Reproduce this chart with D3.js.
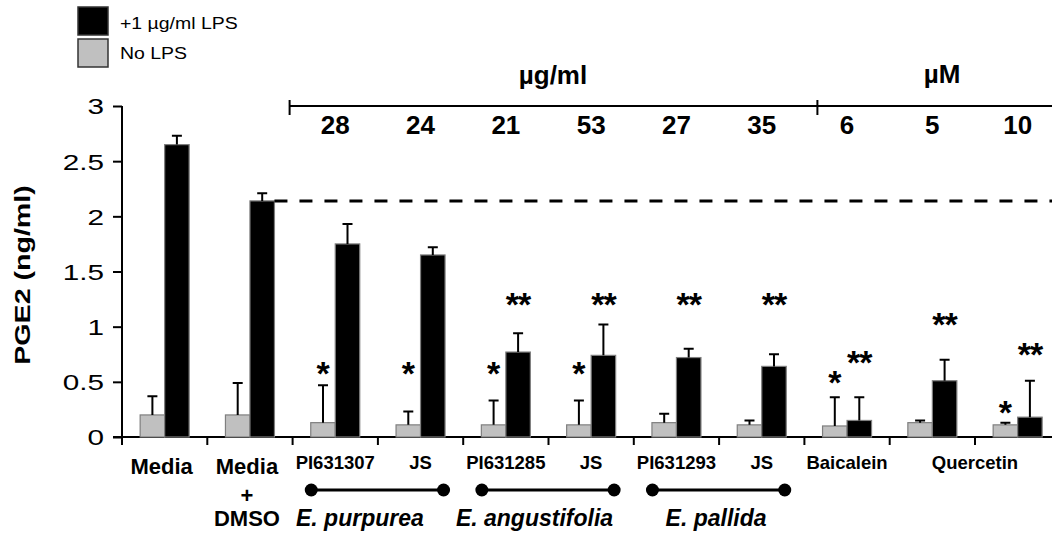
<!DOCTYPE html>
<html>
<head>
<meta charset="utf-8">
<script src="https://cdn.jsdelivr.net/npm/d3@7"></script>
<style>
  body { margin: 0; background: #fff; }
  svg { display: block; font-family: 'Liberation Sans', Arial, sans-serif; }
</style>
</head>
<body>
<svg id="chart"></svg>
<script>
// categories along the x axis (last one shares the Quercetin label)
const categories = ['Media', 'Media + DMSO', 'PI631307', 'JS', 'PI631285', 'JS', 'PI631293', 'JS', 'Baicalein', 'Quercetin', '']
const concentrations = ['', '', '28', '24', '21', '53', '27', '35', '6', '5', '10']

// PGE2 (ng/ml), mean and upper error
const noLps = [0.2, 0.2, 0.13, 0.11, 0.11, 0.11, 0.13, 0.11, 0.1, 0.13, 0.11]
const noLpsErr = [0.17, 0.29, 0.34, 0.12, 0.22, 0.22, 0.08, 0.04, 0.26, 0.02, 0.02]
const lps = [2.65, 2.14, 1.75, 1.65, 0.77, 0.74, 0.72, 0.64, 0.15, 0.51, 0.18]
const lpsErr = [0.08, 0.07, 0.18, 0.07, 0.17, 0.28, 0.08, 0.11, 0.21, 0.19, 0.33]

// significance marks and the level they sit at
const noLpsStars = ['', '', '*', '*', '*', '*', '', '', '*', '', '*']
const noLpsStarAt = [0, 0, 0.64, 0.64, 0.64, 0.64, 0, 0, 0.56, 0, 0.29]
const lpsStars = ['', '', '', '', '**', '**', '**', '**', '**', '**', '**']
const lpsStarAt = [0, 0, 0, 0, 1.27, 1.27, 1.27, 1.27, 0.74, 1.09, 0.82]

const dmsoLevel = 2.14
const yTicks = [0, 0.5, 1, 1.5, 2, 2.5, 3]

const species = [
  { name: 'E. purpurea', from: 2, to: 3 },
  { name: 'E. angustifolia', from: 4, to: 5 },
  { name: 'E. pallida', from: 6, to: 7 },
]

const width = 1052
const height = 535
const font = "'Liberation Sans', Arial, sans-serif"

const svg = d3.select('#chart').attr('width', width).attr('height', height)

const x = d3.scaleBand().domain(d3.range(categories.length)).range([122, 122 + 85.3 * categories.length])
const bw = x.bandwidth()
const xs = d3.scaleBand().domain(['noLps', 'lps']).range([(bw - 49) / 2, (bw + 49) / 2])
const y = d3.scaleLinear().domain([0, 3]).range([437, 106])

const rows = categories.map((c, i) => ({
  i,
  noLps: noLps[i], noLpsErr: noLpsErr[i],
  lps: lps[i], lpsErr: lpsErr[i],
}))

// ---- y axis
const yAxis = svg.append('g')
  .attr('transform', `translate(${x.range()[0]},0)`)
  .call(d3.axisLeft(y).tickValues(yTicks).tickSize(9).tickFormat((d) => String(d)))
yAxis.select('.domain').attr('stroke-width', 2).attr('d', `M0,${y(3)}V${y(0)}`)
yAxis.selectAll('.tick line').attr('stroke-width', 2)
yAxis.selectAll('.tick text')
  .attr('font-family', font)
  .attr('font-size', 22)
  .attr('x', -18 / 1.35)
  .attr('dy', '0.36em')
  .attr('transform', 'scale(1.35,1)')
  .attr('fill', '#000')

svg.append('text')
  .attr('transform', 'translate(30,275) rotate(-90) scale(1.3,1)')
  .attr('text-anchor', 'middle')
  .attr('font-size', 22)
  .attr('font-weight', 'bold')
  .text('PGE2 (ng/ml)')

// ---- x axis (line + ticks at the category boundaries)
const xAxis = svg.append('g')
xAxis.append('line')
  .attr('x1', 113).attr('x2', width)
  .attr('y1', y(0)).attr('y2', y(0))
  .attr('stroke', '#000').attr('stroke-width', 2)
xAxis.selectAll('line.tk')
  .data(d3.range(categories.length + 1))
  .join('line')
  .attr('class', 'tk')
  .attr('x1', (d) => x.range()[0] + d * x.step())
  .attr('x2', (d) => x.range()[0] + d * x.step())
  .attr('y1', y(0)).attr('y2', y(0) + 8)
  .attr('stroke', '#000').attr('stroke-width', 2)

// ---- bars
const groups = svg.append('g').selectAll('g')
  .data(rows)
  .join('g')
  .attr('transform', (d) => `translate(${x(d.i)},0)`)

groups.append('rect')
  .attr('x', xs('noLps')).attr('width', xs.bandwidth())
  .attr('y', (d) => y(d.noLps)).attr('height', (d) => y(0) - y(d.noLps))
  .attr('fill', '#c0c0c0').attr('stroke', '#7f7f7f').attr('stroke-width', 1.2)

groups.append('rect')
  .attr('x', xs('lps')).attr('width', xs.bandwidth())
  .attr('y', (d) => y(d.lps)).attr('height', (d) => y(0) - y(d.lps))
  .attr('fill', '#000').attr('stroke', '#7f7f7f').attr('stroke-width', 1.2)

// error bars, upward only
const errBar = (sel, key, errKey) => {
  const cx = xs(key) + xs.bandwidth() / 2
  sel.append('path')
    .attr('d', (d) => `M${cx},${y(d[key])}V${y(d[key] + d[errKey])}M${cx - 5},${y(d[key] + d[errKey])}H${cx + 5}`)
    .attr('fill', 'none').attr('stroke', '#000').attr('stroke-width', 2)
}
errBar(groups, 'noLps', 'noLpsErr')
errBar(groups, 'lps', 'lpsErr')

// stars
const starSize = 34
groups.append('text')
  .attr('x', xs('noLps') + xs.bandwidth() / 2)
  .attr('y', (d) => y(noLpsStarAt[d.i]) + starSize * 0.56)
  .attr('text-anchor', 'middle')
  .attr('font-size', starSize).attr('font-weight', 'bold')
  .text((d) => noLpsStars[d.i])
groups.append('text')
  .attr('x', xs('lps') + xs.bandwidth() / 2)
  .attr('y', (d) => y(lpsStarAt[d.i]) + starSize * 0.56)
  .attr('text-anchor', 'middle')
  .attr('font-size', starSize).attr('font-weight', 'bold')
  .attr('letter-spacing', -1)
  .text((d) => lpsStars[d.i])

// dashed reference line at the DMSO level
svg.append('line')
  .attr('x1', x(1) + xs('lps') + xs.bandwidth()).attr('x2', width)
  .attr('y1', y(dmsoLevel)).attr('y2', y(dmsoLevel))
  .attr('stroke', '#000').attr('stroke-width', 3)
  .attr('stroke-dasharray', '13,12')

// ---- top concentration bar
const topY = y(3)
const tickA = x(2) - 3
const tickB = x(8) + 13
svg.append('line')
  .attr('x1', tickA).attr('x2', width).attr('y1', topY).attr('y2', topY)
  .attr('stroke', '#000').attr('stroke-width', 2)
svg.selectAll('line.toptick')
  .data([tickA, tickB])
  .join('line')
  .attr('class', 'toptick')
  .attr('x1', (d) => d).attr('x2', (d) => d)
  .attr('y1', topY - 6).attr('y2', topY + 9)
  .attr('stroke', '#000').attr('stroke-width', 2)

svg.append('text').attr('x', 553).attr('y', 84)
  .attr('text-anchor', 'middle').attr('font-size', 26).attr('font-weight', 'bold')
  .text('µg/ml')
svg.append('text').attr('x', 942).attr('y', 83)
  .attr('text-anchor', 'middle').attr('font-size', 26).attr('font-weight', 'bold')
  .text('µM')

svg.append('g').selectAll('text')
  .data(concentrations)
  .join('text')
  .attr('x', (d, i) => x(i) + bw / 2)
  .attr('y', 134)
  .attr('text-anchor', 'middle')
  .attr('font-size', 26).attr('font-weight', 'bold')
  .text((d) => d)

// ---- category labels
const labels = svg.append('g')
labels.selectAll('text.cat')
  .data(categories)
  .join('text')
  .attr('class', 'cat')
  .attr('text-anchor', 'middle')
  .attr('font-weight', 'bold')
  .each(function (d, i) {
    const t = d3.select(this)
    const cx = x(i) + bw / 2 - 3
    if (i < 2) {
      t.attr('font-size', 22)
      d.split(' ').forEach((part, k) => {
        t.append('tspan').attr('x', cx).attr('y', [474, 503, 526][k]).text(part)
      })
    } else if (d === 'Quercetin') {
      // label spans the 5 and 10 µM groups
      t.attr('font-size', 18.5).attr('x', x(i) + bw).attr('y', 468.5).text(d)
    } else {
      t.attr('font-size', 18.5).attr('x', cx + 3).attr('y', 468.5).text(d)
    }
  })

// dumbbells with species names
const sp = svg.append('g').selectAll('g')
  .data(species)
  .join('g')
sp.append('line')
  .attr('x1', (d) => x(d.from) + bw / 2 - 24)
  .attr('x2', (d) => x(d.to) + bw / 2 + 23)
  .attr('y1', 490).attr('y2', 490)
  .attr('stroke', '#000').attr('stroke-width', 3)
sp.selectAll('circle')
  .data((d) => [x(d.from) + bw / 2 - 24, x(d.to) + bw / 2 + 23])
  .join('circle')
  .attr('cx', (d) => d).attr('cy', 490).attr('r', 6.5)
  .attr('fill', '#000')
sp.append('text')
  .attr('x', (d, i) => (x(d.from) + x(d.to) + bw) / 2 + [-18, -14, -3][i])
  .attr('y', 526)
  .attr('text-anchor', 'middle')
  .attr('font-size', 23).attr('font-weight', 'bold').attr('font-style', 'italic')
  .text((d) => d.name)

// ---- legend
const legendItems = [
  { label: '+1 µg/ml LPS', fill: '#000' },
  { label: 'No LPS', fill: '#c0c0c0' },
]
const legend = svg.append('g')
legend.selectAll('rect')
  .data(legendItems)
  .join('rect')
  .attr('x', 78).attr('y', (d, i) => 7 + i * 32)
  .attr('width', 30).attr('height', 28)
  .attr('fill', (d) => d.fill)
  .attr('stroke', '#333').attr('stroke-width', 1.5)
legend.selectAll('text')
  .data(legendItems)
  .join('text')
  .attr('transform', (d, i) => `translate(120,${29 + i * 30}) scale(1.18,1)`)
  .attr('font-size', 16.5)
  .text((d) => d.label)
</script>
</body>
</html>
